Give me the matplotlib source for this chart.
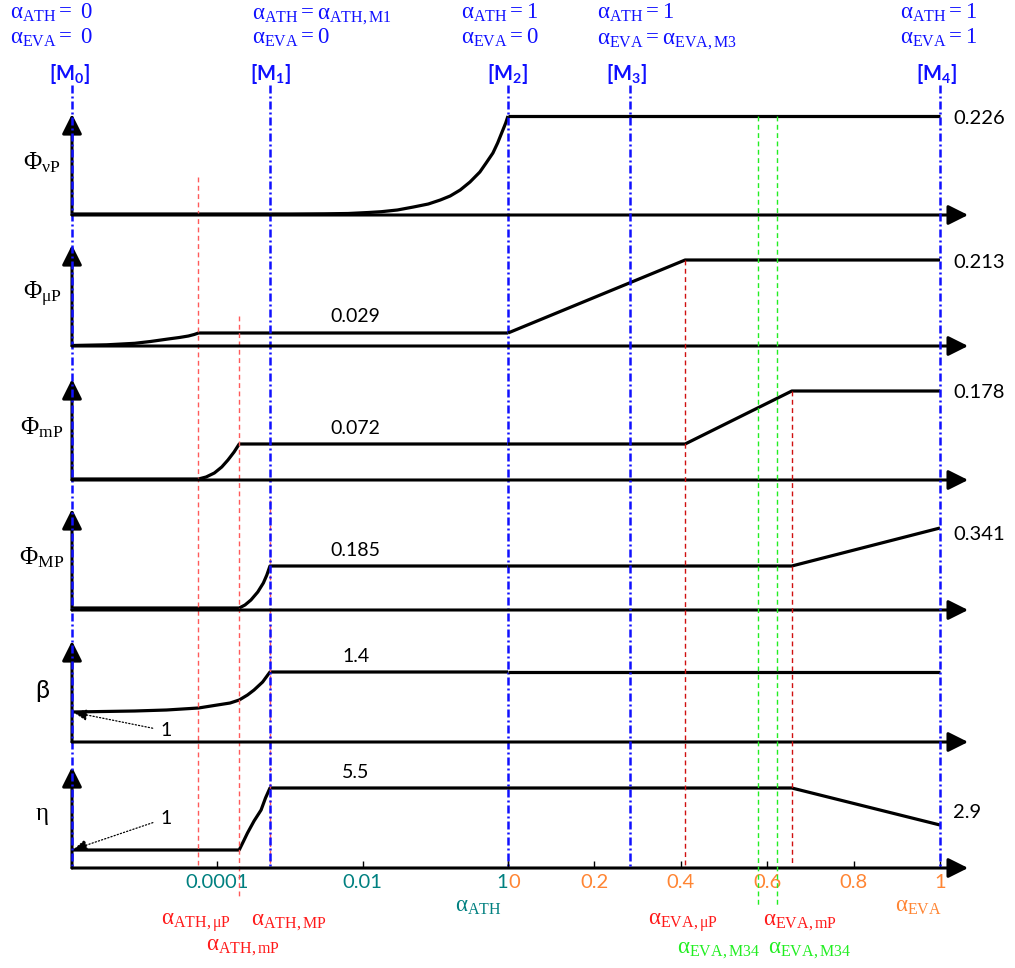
import matplotlib
matplotlib.use('Agg')
import matplotlib.pyplot as plt
from matplotlib.ticker import NullLocator

plt.rcParams['mathtext.fontset'] = 'custom'
plt.rcParams['mathtext.rm'] = 'Liberation Serif'
plt.rcParams['mathtext.it'] = 'Liberation Serif:italic'
plt.rcParams['mathtext.bf'] = 'Liberation Serif:bold'
plt.rcParams['mathtext.sf'] = 'Lato:bold'

# ---- data (alpha_ATH on log scale, alpha_EVA on linear scale) ----
ath_min = 1e-6
ath_uP = 5.5e-5
ath_mP = 2.0e-4
ath_MP = 5.3e-4          # = alpha_ATH,M1
eva_uP = 0.41
eva_mP = 0.657
eva_M34 = [0.579, 0.623]
eva_M3 = 0.282

# normalized curve levels for each quantity
vP_ath = [1e-6, 1e-3, 3e-3, 6.3e-3, 0.012, 0.018, 0.03, 0.05, 0.08, 0.117, 0.16,
          0.22, 0.3, 0.41, 0.5, 0.62, 0.72, 0.85, 0.93, 1.0]
vP_ath_lvl = [0.01, 0.01, 0.012, 0.015, 0.025, 0.033, 0.05, 0.08, 0.11, 0.15, 0.19,
              0.25, 0.33, 0.43, 0.52, 0.62, 0.72, 0.85, 0.92, 0.99]
vP_eva = [0, 1]
vP_eva_lvl = [0.99, 0.99]

uP_ath = [1e-6, 3e-6, 7.3e-6, 1.2e-5, 2.1e-5, 3e-5, 4e-5, 4.8e-5, 5.5e-5, 1.0]
uP_ath_lvl = [0.005, 0.012, 0.027, 0.045, 0.07, 0.085, 0.10, 0.115, 0.13, 0.13]
uP_eva = [0, 0.41, 1]
uP_eva_lvl = [0.13, 0.86, 0.86]

mP_ath = [1e-6, 5.5e-5, 7e-5, 9.1e-5, 1.15e-4, 1.4e-4, 1.7e-4, 2.0e-4, 1.0]
mP_ath_lvl = [0.01, 0.01, 0.03, 0.07, 0.13, 0.20, 0.28, 0.36, 0.36]
mP_eva = [0, 0.41, 0.657, 1]
mP_eva_lvl = [0.36, 0.36, 0.89, 0.89]

MP_ath = [1e-6, 2.0e-4, 2.4e-4, 2.9e-4, 3.6e-4, 4.3e-4, 4.8e-4, 5.3e-4, 1.0]
MP_ath_lvl = [0.02, 0.02, 0.05, 0.10, 0.18, 0.27, 0.35, 0.44, 0.44]
MP_eva = [0, 0.657, 1]
MP_eva_lvl = [0.44, 0.44, 0.82]

beta_ath = [1e-6, 7.3e-6, 2e-5, 5.5e-5, 1e-4, 1.5e-4, 2.0e-4, 2.6e-4, 3.2e-4,
            4.2e-4, 5.3e-4, 1.0]
beta_ath_lvl = [0.30, 0.31, 0.32, 0.34, 0.37, 0.39, 0.42, 0.47, 0.52, 0.60, 0.70, 0.70]
beta_eva = [0, 1]
beta_eva_lvl = [0.70, 0.70]

eta_ath = [1e-6, 2.0e-4, 2.3e-4, 2.6e-4, 3.2e-4, 4.0e-4, 4.6e-4, 5.3e-4, 1.0]
eta_ath_lvl = [0.18, 0.18, 0.27, 0.35, 0.47, 0.58, 0.70, 0.80, 0.80]
eta_eva = [0, 0.657, 1]
eta_eva_lvl = [0.80, 0.80, 0.43]

row_labels = [r'$\mathrm{\Phi_{\nu P}}$', r'$\mathrm{\Phi_{\mu P}}$', r'$\mathrm{\Phi_{mP}}$',
              r'$\mathrm{\Phi_{MP}}$', 'β', r'$\mathrm{\eta}$']
plateau_labels = [None, '0.029', '0.072', '0.185', '1.4', '5.5']
end_labels = ['0.226', '0.213', '0.178', '0.341', None, '2.9']

curves = [(vP_ath, vP_ath_lvl, vP_eva, vP_eva_lvl),
          (uP_ath, uP_ath_lvl, uP_eva, uP_eva_lvl),
          (mP_ath, mP_ath_lvl, mP_eva, mP_eva_lvl),
          (MP_ath, MP_ath_lvl, MP_eva, MP_eva_lvl),
          (beta_ath, beta_ath_lvl, beta_eva, beta_eva_lvl),
          (eta_ath, eta_ath_lvl, eta_eva, eta_eva_lvl)]

ath_ticks = [1e-4, 1e-2, 1]
ath_ticklabels = ['0.0001', '0.01', '1']
eva_ticks = [0, 0.2, 0.4, 0.6, 0.8, 1]
eva_ticklabels = ['0', '0.2', '0.4', '0.6', '0.8', '1']

# ---- layout (pixels) ----
W, H = 1015, 968
X0, XM, XE = 72, 508, 940
Y_AX = 868
row_base = [215, 346, 480, 610, 742, 868]
LVL = 100
ARROW_H = 101

BLUE = '#1010ff'
TEAL = '#008080'
ORANGE = '#ff8533'
RED = '#ff1a1a'
LRED = '#ff5a5a'
DRED = '#d01010'
GREEN = '#22ee22'

fig = plt.figure(figsize=(W / 100, H / 100), dpi=100)
axL = fig.add_axes([X0 / W, (H - Y_AX) / H, (XM - X0) / W, Y_AX / H])
axR = fig.add_axes([XM / W, (H - Y_AX) / H, (XE - XM) / W, Y_AX / H])
axL.set_xscale('log')
axL.set_xlim(ath_min, 1)
axR.set_xlim(0, 1)
for ax in (axL, axR):
    ax.set_ylim(Y_AX, 0)
    ax.set_facecolor('none')
    for s in ax.spines.values():
        s.set_visible(False)
    ax.set_yticks([])
axL.xaxis.set_minor_locator(NullLocator())


def ypix(row, lvl):
    return [row_base[row] - v * LVL for v in lvl]


head = '-|>,head_length=0.6,head_width=0.3'
for i, (xa, la, xe, le) in enumerate(curves):
    base = row_base[i]
    # axes arrows
    axL.annotate('', xy=(ath_min, base - ARROW_H), xytext=(ath_min, base),
                 arrowprops=dict(arrowstyle=head, lw=2.2, color='k', mutation_scale=20,
                                 shrinkA=0, shrinkB=0), annotation_clip=False)
    axR.annotate('', xy=(1.065, base), xytext=(ath_min, base), textcoords=axL.transData,
                 arrowprops=dict(arrowstyle=head, lw=2.2, color='k', mutation_scale=20,
                                 shrinkA=0, shrinkB=0), annotation_clip=False)
    # curves
    axL.plot(xa, ypix(i, la), color='k', lw=2.3, clip_on=False, zorder=2,
             solid_capstyle='butt', solid_joinstyle='round')
    axR.plot(xe, ypix(i, le), color='k', lw=2.3, clip_on=False, zorder=2,
             solid_capstyle='butt')
    # labels
    fig.text(42 / W, 1 - (base - 52) / H, row_labels[i], fontsize=18, ha='center',
             va='center', family='Lato' if row_labels[i] == 'β' else 'Liberation Serif')
    if plateau_labels[i]:
        axL.text(0.008, ypix(i, [la[-1]])[0] - 16, plateau_labels[i], fontsize=14,
                 family='Lato', ha='center', va='center')
    if end_labels[i]:
        dy = {3: 7, 5: -13}.get(i, 2)
        axR.text(1.03, ypix(i, [le[-1]])[0] + dy, end_labels[i], fontsize=14.5,
                 family='Lato', ha='left', va='center')

# "1" pointers for beta and eta
for i, ty in ((4, 731), (5, 818)):
    lvl0 = curves[i][1][0]
    axL.annotate('1', xy=(ath_min, ypix(i, [lvl0])[0]), xytext=(2.0e-5, ty),
                 fontsize=14, family='Lato', ha='center', va='center',
                 arrowprops=dict(arrowstyle='-|>,head_length=0.6,head_width=0.25',
                                 linestyle=':', lw=0.9, color='k', mutation_scale=14,
                                 shrinkA=4, shrinkB=1), annotation_clip=False)

# vertical marker lines
bdash = (0, (3.2, 1.2, 0.8, 1.2))
for ax, xv in ((axL, ath_min), (axL, ath_MP), (axL, 1.0), (axR, eva_M3), (axR, 1.0)):
    ax.plot([xv, xv], [85, Y_AX], color=BLUE, lw=1.8, ls=bdash, clip_on=False, zorder=4)

rdash = (0, (3.5, 2.5))
for ax, xv, y0, y1, c in ((axL, ath_uP, 177, 865, LRED), (axL, ath_mP, 316, 897, LRED),
                          (axL, ath_MP, 500, 868, LRED), (axR, eva_uP, 260, 867, DRED),
                          (axR, eva_mP, 391, 865, DRED)):
    ax.plot([xv, xv], [y0, y1], color=c, lw=1.0, ls=rdash, clip_on=False, zorder=3)
for xv in eva_M34:
    axR.plot([xv, xv], [116, 907], color=GREEN, lw=1.0, ls=rdash, clip_on=False, zorder=3)

# bottom ticks
axL.set_xticks(ath_ticks)
axL.set_xticklabels(ath_ticklabels)
axR.set_xticks(eva_ticks)
axR.set_xticklabels(eva_ticklabels)
axL.tick_params(axis='x', direction='in', length=5, width=1, pad=4, labelsize=14.5,
                labelcolor=TEAL)
axR.tick_params(axis='x', direction='in', length=5, width=1, pad=4, labelsize=14.5,
                labelcolor=ORANGE)
for ax in (axL, axR):
    for t in ax.get_xticklabels():
        t.set_fontfamily('Lato')
axL.get_xticklabels()[-1].set_ha('right')
axR.get_xticklabels()[0].set_ha('left')

# bottom annotations
bottom = [(axL, ath_uP, -2, 925, r'$\mathrm{\alpha_{ATH,\mu P}}$', RED),
          (axL, ath_MP, 19, 925, r'$\mathrm{\alpha_{ATH,MP}}$', RED),
          (axL, ath_mP, 4, 950, r'$\mathrm{\alpha_{ATH,mP}}$', RED),
          (axL, 1.0, -30, 912, r'$\mathrm{\alpha_{ATH}}$', TEAL),
          (axR, eva_uP, -2, 925, r'$\mathrm{\alpha_{EVA,\mu P}}$', RED),
          (axR, eva_mP, 8, 925, r'$\mathrm{\alpha_{EVA,mP}}$', RED),
          (axR, eva_M34[0], -39, 953, r'$\mathrm{\alpha_{EVA,M34}}$', GREEN),
          (axR, eva_M34[1], 33, 953, r'$\mathrm{\alpha_{EVA,M34}}$', GREEN),
          (axR, 1.0, -22, 912, r'$\mathrm{\alpha_{EVA}}$', ORANGE)]
for ax, xv, dx, yb, s, c in bottom:
    ax.annotate(s, xy=(xv, yb), xytext=(dx, 0), textcoords='offset pixels',
                fontsize=16.5, color=c, ha='center', va='baseline', annotation_clip=False)

# top state annotations
states = [(axL, ath_min, -62, -3, r'$\mathrm{\alpha_{ATH}= \ 0}$', r'$\mathrm{\alpha_{EVA}= \ 0}$', '0'),
          (axL, ath_MP, -18, 0, r'$\mathrm{\alpha_{ATH} =\alpha_{ATH,M1}}$',
           r'$\mathrm{\alpha_{EVA} = 0}$', '1'),
          (axL, 1.0, -47, -1, r'$\mathrm{\alpha_{ATH} = 1}$', r'$\mathrm{\alpha_{EVA} = 0}$', '2'),
          (axR, eva_M3, -33, -3, r'$\mathrm{\alpha_{ATH} = 1}$',
           r'$\mathrm{\alpha_{EVA}{=}\alpha_{EVA,M3}}$', '3'),
          (axR, 1.0, -40, -4, r'$\mathrm{\alpha_{ATH} = 1}$', r'$\mathrm{\alpha_{EVA} = 1}$', '4')]
for ax, xv, dx, dm, l1, l2, k in states:
    for yb, s in ((19, l1), (44, l2)):
        ax.annotate(s, xy=(xv, yb), xytext=(dx, 0), textcoords='offset pixels',
                    fontsize=16.5, color=BLUE, ha='left', va='baseline', annotation_clip=False)
    ax.annotate('[M$_{\\mathsf{%s}}$]' % k, xy=(xv, 80), xytext=(dm, 0),
                textcoords='offset pixels', fontsize=14.5, color=BLUE, family='Lato',
                fontweight='bold', ha='center', va='baseline', annotation_clip=False)

fig.savefig('out.png', dpi=100, facecolor='white')
